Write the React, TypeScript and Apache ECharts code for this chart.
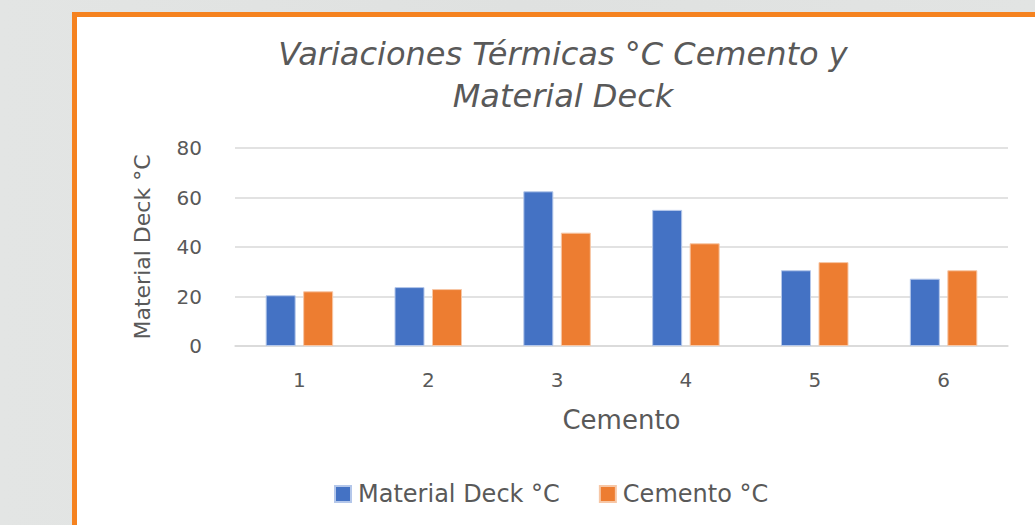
import React, { useEffect, useRef } from "react";
import * as echarts from "echarts";

const categories = ["1", "2", "3", "4", "5", "6"];
const materialDeck = [20.5, 23.8, 62.5, 55.0, 30.6, 27.2];
const cemento = [22.1, 23.0, 45.8, 41.5, 33.9, 30.6];
const seriesNames = ["Material Deck °C", "Cemento °C"];
const titleText = "Variaciones Térmicas °C Cemento y\nMaterial Deck";
const xAxisName = "Cemento";
const yAxisName = "Material Deck °C";

const FONT = "'DejaVu Sans', Verdana, sans-serif";
const TEXT = "#595959";

export default function App() {
  const ref = useRef<HTMLDivElement>(null);
  useEffect(() => {
    if (!ref.current) return;
    const chart = echarts.init(ref.current, undefined, { renderer: "svg" });
    chart.setOption({
      animation: false,
      backgroundColor: "transparent",
      textStyle: { fontFamily: FONT },
      title: {
        text: titleText,
        left: 558,
        top: 28,
        textAlign: "center",
        textStyle: {
          fontFamily: FONT,
          fontStyle: "italic",
          fontWeight: "normal",
          fontSize: 32,
          lineHeight: 42,
          color: TEXT,
        },
      },
      legend: {
        left: 329,
        top: 477,
        itemWidth: 16,
        itemHeight: 16,
        itemGap: 39,
        icon: "rect",
        textStyle: { fontFamily: FONT, fontSize: 24, color: TEXT, padding: [0, 0, 0, 2] },
        data: seriesNames,
      },
      grid: { left: 235, right: 27, top: 148, bottom: 179 },
      xAxis: {
        type: "category",
        data: categories,
        name: xAxisName,
        nameLocation: "middle",
        nameGap: 61,
        nameTextStyle: { fontFamily: FONT, fontSize: 26, color: TEXT },
        axisTick: { show: false },
        axisLine: { lineStyle: { color: "#d9d9d9", width: 1.5 } },
        axisLabel: { fontFamily: FONT, fontSize: 20, color: TEXT, margin: 24 },
      },
      yAxis: {
        type: "value",
        min: 0,
        max: 80,
        interval: 20,
        name: yAxisName,
        nameLocation: "middle",
        nameGap: 82,
        nameTextStyle: { fontFamily: FONT, fontSize: 22, color: TEXT },
        axisLine: { show: false },
        axisTick: { show: false },
        splitLine: { lineStyle: { color: "#d9d9d9", width: 1.5 } },
        axisLabel: { fontFamily: FONT, fontSize: 20, color: TEXT, margin: 33 },
      },
      series: [
        {
          name: seriesNames[0],
          type: "bar",
          data: materialDeck,
          barWidth: 30,
          barGap: "25%",
          itemStyle: { color: "#4472C4", borderColor: "#b4c7ea", borderWidth: 1 },
        },
        {
          name: seriesNames[1],
          type: "bar",
          data: cemento,
          barWidth: 30,
          itemStyle: { color: "#ED7D31", borderColor: "#f7c7a6", borderWidth: 1 },
        },
      ],
    });
    return () => chart.dispose();
  }, []);

  return (
    <div
      style={{
        position: "fixed",
        left: 0,
        top: 0,
        width: 1035,
        height: 525,
        overflow: "hidden",
        background: "linear-gradient(90deg, #e3e5e4 0%, #dfe1e0 50%, #e2e4e3 100%)",
      }}
    >
      <div
        style={{
          position: "absolute",
          left: 72,
          top: 12,
          width: 1100,
          height: 600,
          background: "#ffffff",
          border: "5px solid #f5821f",
          borderRightWidth: 0,
          borderBottomWidth: 0,
        }}
      />
      <div ref={ref} style={{ position: "absolute", left: 0, top: 0, width: 1035, height: 525 }} />
    </div>
  );
}
